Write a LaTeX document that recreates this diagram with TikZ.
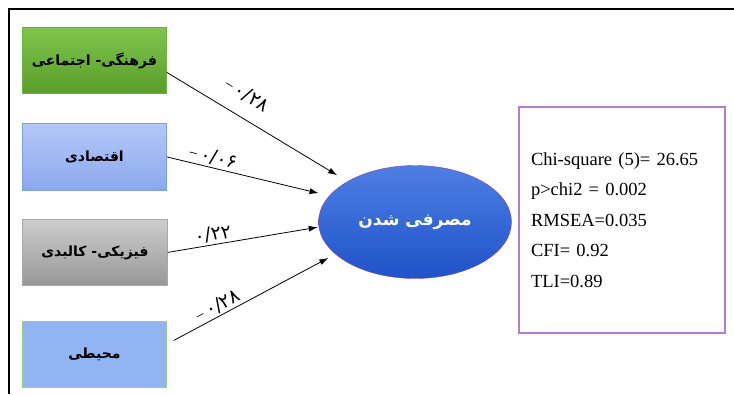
\documentclass[tikz,border=0pt]{standalone}
\usepackage{fontspec}
\setmainfont{Liberation Serif}
\newfontfamily\arabicfont[Script=Arabic]{DejaVu Sans}
\TeXXeTstate=1
\usepackage{tikz}
\usetikzlibrary{shapes,positioning,arrows.meta}

\definecolor{culttop}{HTML}{7EC44D}
\definecolor{cultbot}{HTML}{589E29}
\definecolor{cultline}{HTML}{6CB43C}
\definecolor{econtop}{HTML}{B4C8F8}
\definecolor{econbot}{HTML}{8CA8EE}
\definecolor{econline}{HTML}{7F9EEA}
\definecolor{phystop}{HTML}{CDCDCD}
\definecolor{physbot}{HTML}{979797}
\definecolor{physline}{HTML}{A8A8A8}
\definecolor{envfill}{HTML}{93B4F2}
\definecolor{envline}{HTML}{95D57E}
\definecolor{consumtop}{HTML}{4D7FE3}
\definecolor{consumbot}{HTML}{1F53C8}
\definecolor{consumline}{HTML}{8E3FA6}
\definecolor{statline}{HTML}{B07CD8}

\tikzset{
 factor/.style={draw,anchor=north west,minimum width=144pt,minimum height=66pt,line width=0.8pt,font=\arabicfont\bfseries\fontsize{14}{16}\selectfont},
 link/.style={-{Latex[length=9pt,width=6pt]},line width=0.8pt},
 coef/.style={sloped,inner sep=1pt,font=\fontsize{16}{18}\selectfont},
}
\newcommand{\persnum}[1]{{\arabicfont\fontsize{19}{21}\selectfont #1}}

\begin{document}
\begin{tikzpicture}[x=1pt,y=-1pt]
 \useasboundingbox (0,0) rectangle (734,394);
 \draw[line width=2pt] (734,9) -- (9,9) -- (9,394);

 \node[factor,top color=culttop,bottom color=cultbot,draw=cultline] (cult) at (22,27) {\beginR فرهنگی- اجتماعی\endR};
 \node[factor,top color=econtop,bottom color=econbot,draw=econline,minimum height=67pt] (econ) at (22,123) {\beginR اقتصادی\endR};
 \node[factor,top color=phystop,bottom color=physbot,draw=physline,minimum width=145pt] (phys) at (22,219) {\beginR فیزیکی- کالبدی\endR};
 \node[factor,fill=envfill,draw=envline] (env) at (22,321) {\beginR محیطی\endR};

 \node[ellipse,draw=consumline,top color=consumtop,bottom color=consumbot,minimum width=193pt,minimum height=113pt,inner sep=0pt,text=white,font=\arabicfont\bfseries\fontsize{17}{19}\selectfont] (consum) at (415,222) {\beginR مصرفی شدن\endR};

 \node[draw=statline,line width=1.2pt,minimum width=206pt,minimum height=226pt,text width=182pt,inner xsep=12pt,align=left,font=\fontsize{18.5}{30.5}\selectfont] (fitstats) at (622,220) {Chi-square (5)= 26.65\\p>chi2 = 0.002\\RMSEA=0.035\\CFI= 0.92\\TLI=0.89};

 \draw[link,shorten >=12pt] ([yshift=-12pt]cult.east) -- (consum.149) node[coef,pos=0.38,above=13pt] {−\,\persnum{۰/۲۸}};
 \draw[link,shorten >=11pt] (econ.east) -- (consum.163) node[coef,pos=0.27,above=1pt] {−\,\persnum{۰/۰۶}};
 \draw[link,shorten >=1pt] (phys.east) -- (consum.183) node[coef,pos=0.31,above=1pt] {\persnum{۰/۲۲}};
 \draw[link,shorten >=8pt] ([xshift=7pt,yshift=14pt]env.east) -- (consum.202) node[coef,pos=0.30,above=1pt] {−\,\persnum{۰/۲۸}};
\end{tikzpicture}
\end{document}
